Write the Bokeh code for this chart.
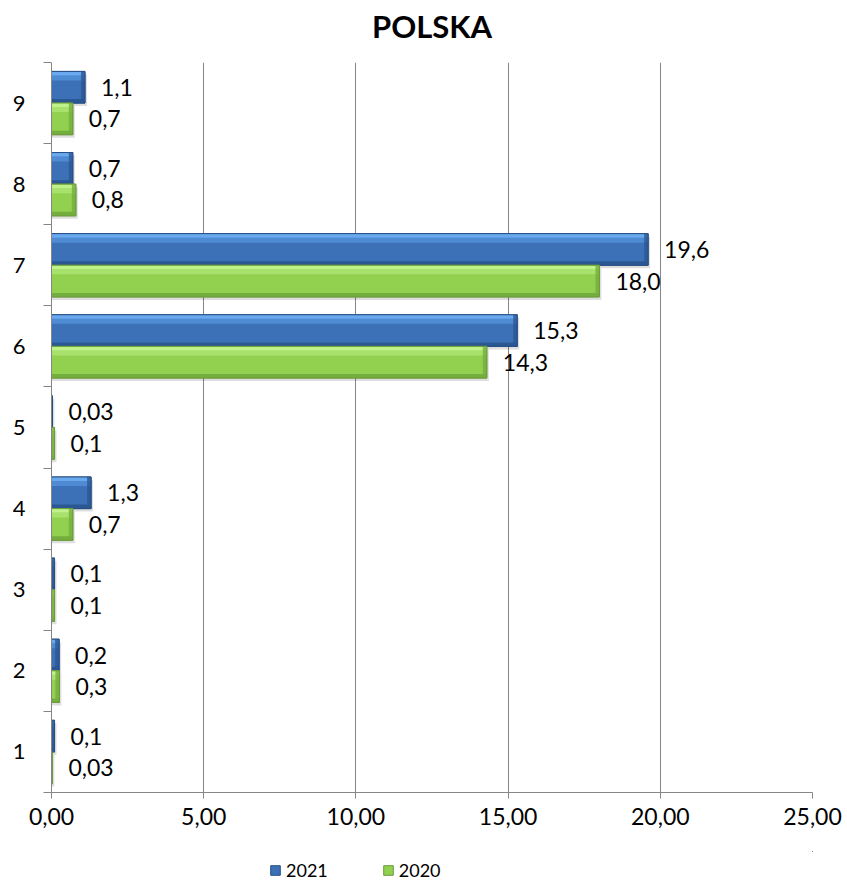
from bokeh.plotting import figure
from bokeh.layouts import column
from bokeh.models import Range1d, FixedTicker, Legend, LegendItem, ColumnDataSource
from bokeh.core.properties import value
from bokeh.embed import file_html
from bokeh.resources import INLINE

# ---- data ----
categories = [1, 2, 3, 4, 5, 6, 7, 8, 9]
values_2021 = [0.1, 0.25, 0.1, 1.3, 0.03, 15.3, 19.6, 0.7, 1.1]
values_2020 = [0.03, 0.26, 0.1, 0.7, 0.1, 14.3, 18.0, 0.8, 0.7]
series_names = ["2021", "2020"]
x_ticks = [0, 5, 10, 15, 20, 25]
x_tick_labels = ["0,00", "5,00", "10,00", "15,00", "20,00", "25,00"]
title_text = "POLSKA"


def fmt(v):
    s = f"{v:.2f}" if v < 0.05 else f"{v:.1f}"
    return s.replace(".", ",")


W = 847
H_TITLE = 62
H_LEG = 30
H = 881 - H_TITLE - H_LEG
BL, BR, BT = 51, 35, 0
BB = H - 730
XMAX = 25
ppx = (W - BL - BR) / XMAX
ppy = (H - BT - BB) / len(categories)

FONT = "Lato"
AXC = "#868686"

# ---- title strip ----
ph = figure(width=W, height=H_TITLE, output_backend="svg", toolbar_location=None,
            x_range=Range1d(0, 1), y_range=Range1d(0, H_TITLE),
            x_axis_location=None, y_axis_location=None,
            min_border_left=0, min_border_right=0, min_border_top=0, min_border_bottom=0)
ph.outline_line_color = None
ph.grid.visible = False
ph.background_fill_color = "white"
ph.border_fill_color = "white"
ph.text(x=[0.5], y=[H_TITLE - 25], text=[title_text], text_align="center",
        text_baseline="middle", text_font=value(FONT), text_font_size=value("31px"),
        text_font_style="bold", text_color="black")

# ---- main chart ----
p = figure(width=W, height=H, output_backend="svg", toolbar_location=None,
           x_range=Range1d(0, XMAX), y_range=Range1d(0.5, len(categories) + 0.5),
           min_border_left=BL, min_border_right=BR, min_border_top=BT, min_border_bottom=BB)
p.outline_line_color = None
p.background_fill_color = "white"
p.border_fill_color = "white"

# x axis
p.xaxis.ticker = FixedTicker(ticks=x_ticks)
p.xaxis.major_label_overrides = {t: l for t, l in zip(x_ticks, x_tick_labels)}
p.xaxis.axis_line_color = AXC
p.xaxis.major_tick_line_color = AXC
p.xaxis.major_tick_out = 6
p.xaxis.major_tick_in = 0
p.xaxis.minor_tick_line_color = None
p.xaxis.major_label_text_font = FONT
p.xaxis.major_label_text_font_size = "23px"
p.xaxis.major_label_text_color = "black"
p.xaxis.major_label_standoff = 9

# y axis
p.yaxis.ticker = FixedTicker(ticks=categories,
                             minor_ticks=[c - 0.5 for c in categories] + [categories[-1] + 0.5])
p.yaxis.axis_line_color = AXC
p.yaxis.major_tick_line_color = None
p.yaxis.major_tick_out = 0
p.yaxis.major_tick_in = 0
p.yaxis.minor_tick_line_color = AXC
p.yaxis.minor_tick_out = 8
p.yaxis.minor_tick_in = 0
p.yaxis.major_label_text_font = FONT
p.yaxis.major_label_text_font_size = "22px"
p.yaxis.major_label_text_color = "black"
p.yaxis.major_label_standoff = 18

# grid
p.ygrid.grid_line_color = None
p.xgrid.ticker = FixedTicker(ticks=x_ticks)
p.xgrid.grid_line_color = AXC
p.xgrid.grid_line_width = 1

BH = 0.39
OFF = 0.195

styles = [
    dict(main="#3d71b7", light="#6aa9ee", mid="#4f8bd3", dark="#2b5893", edge="#274f86"),
    dict(main="#92d050", light="#c0f28c", mid="#a8e26c", dark="#74ae3e", edge="#6c9c3b"),
]

# ---- legend strip; its ranges keep the swatch bars far out of view ----
pl = figure(width=W, height=H_LEG, output_backend="svg", toolbar_location=None,
            x_range=Range1d(-300, -299), y_range=Range1d(-300, -299),
            x_axis_location=None, y_axis_location=None,
            min_border_left=0, min_border_right=0, min_border_top=0, min_border_bottom=0)
pl.outline_line_color = None
pl.grid.visible = False
pl.border_fill_color = "white"
pl.background_fill_color = "white"

legend_items = []
for vals, off, st, name in [(values_2021, OFF, styles[0], series_names[0]),
                            (values_2020, -OFF, styles[1], series_names[1])]:
    ys = [c + off for c in categories]
    src = ColumnDataSource(dict(
        y=ys, v=vals,
        top=[y + BH / 2 for y in ys], bot=[y - BH / 2 for y in ys],
        sh_y=[y - 3 / ppy for y in ys], sh_r=[v + 2 / ppx for v in vals],
        tb_b=[y + BH / 2 - 4 / ppy for y in ys],
        tb2_b=[y + BH / 2 - 9 / ppy for y in ys],
        bb_t=[y - BH / 2 + 4 / ppy for y in ys],
        re_l=[max(0, v - 4 / ppx) for v in vals],
        lab=[fmt(v) for v in vals],
    ))
    # shadow
    p.hbar(y="sh_y", left=0, right="sh_r", height=BH, source=src,
           fill_color="black", fill_alpha=0.13, line_color=None)
    p.hbar(y="y", left=0, right="v", height=BH, source=src,
           fill_color=st["main"], line_color=st["edge"], line_width=1)
    # top highlight (two steps)
    p.quad(left=0, right="v", top="tb_b", bottom="tb2_b", source=src,
           fill_color=st["mid"], line_color=None)
    p.quad(left=0, right="v", top="top", bottom="tb_b", source=src,
           fill_color=st["light"], line_color=None)
    # bottom shade
    p.quad(left=0, right="v", top="bb_t", bottom="bot", source=src,
           fill_color=st["dark"], line_color=None)
    # right end shade
    p.quad(left="re_l", right="v", top="top", bottom="bot", source=src,
           fill_color=st["dark"], fill_alpha=0.8, line_color=None)
    # outline
    p.hbar(y="y", left=0, right="v", height=BH, source=src,
           fill_color=None, line_color=st["edge"], line_width=1)
    # labels
    p.text(x="v", y="y", text="lab", source=src, x_offset=16,
           text_align="left", text_baseline="middle",
           text_font=value(FONT), text_font_size=value("23px"), text_color="black")
    # legend swatch renderer (same data, out of the legend strip's view)
    sw = pl.hbar(y="y", left=0, right="v", height=BH, source=src,
                 fill_color=st["main"], line_color=st["edge"])
    legend_items.append(LegendItem(label=name, renderers=[sw]))

legend = Legend(items=legend_items, orientation="horizontal", location=(218, 0),
                glyph_width=12, glyph_height=12, label_standoff=5, spacing=54,
                padding=0, margin=0, border_line_color=None, background_fill_alpha=0,
                label_text_font=FONT, label_text_font_size="18px", label_text_color="black")
pl.add_layout(legend, "center")

layout = column(ph, p, pl, spacing=0)
open("out.html", "w").write(file_html(layout, INLINE))
